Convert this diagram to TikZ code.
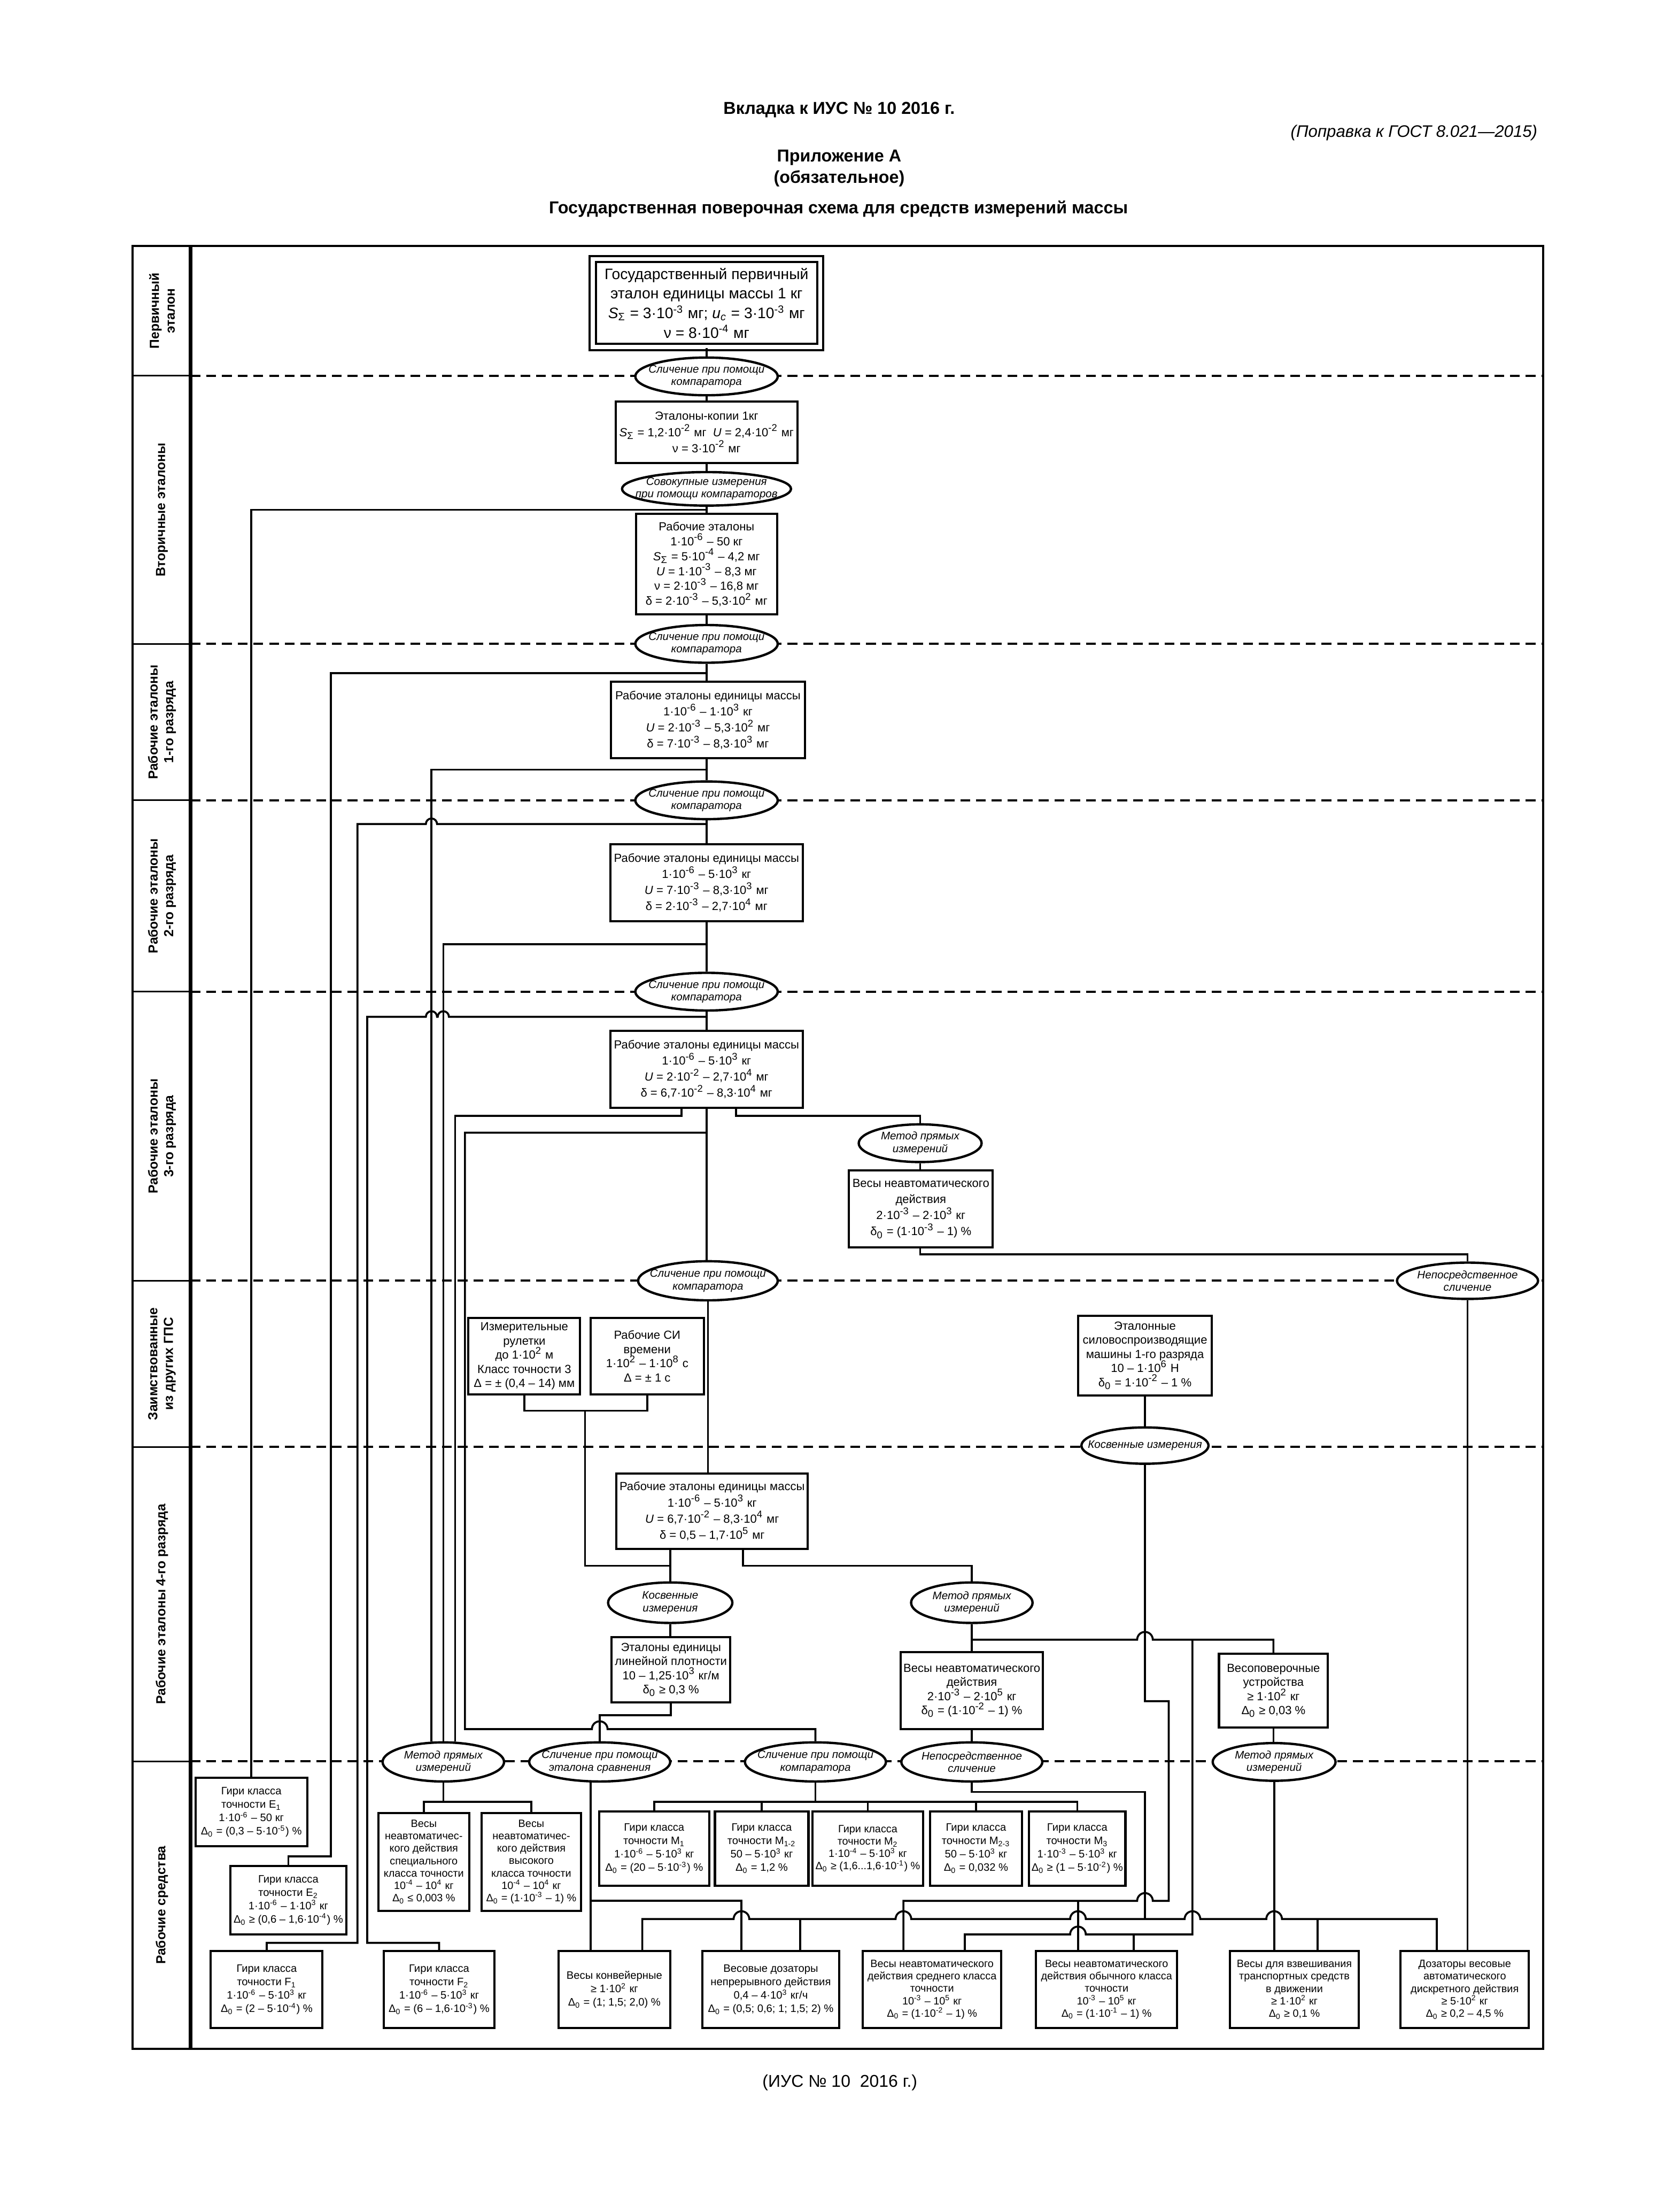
\documentclass[tikz,border=0pt]{standalone}
\usepackage{fontspec}
\setmainfont{Liberation Sans}
\usetikzlibrary{shapes.geometric}
\newcommand{\tp}[1]{10\textsuperscript{#1}}
\lineskiplimit=-6pt
\tikzset{
  ln/.style={line width=1pt},
  rowsep/.style={line width=1.1pt, dash pattern=on 5pt off 3pt},
  sz/.style 2 args={minimum width=#1*0.025cm, minimum height=#2*0.025cm},
  bx/.style={draw, line width=1.1pt, fill=white, align=center, inner sep=1pt},
  lvlbox/.style={bx, font=\fontsize{6}{8.2}\selectfont},
  midbox/.style={bx, font=\fontsize{6}{7.2}\selectfont},
  smbox/.style={bx, font=\fontsize{5.5}{6.8}\selectfont},
  scbox/.style={bx, font=\fontsize{5.4}{6.3}\selectfont},
  oval/.style={ellipse, draw, line width=1.2pt, fill=white, align=center, inner xsep=-14pt, inner ysep=-8pt, font=\fontsize{5.6}{6.3}\selectfont\itshape},
  rowlbl/.style={rotate=90, align=center, font=\fontsize{6.7}{8}\selectfont\bfseries},
  hdr/.style={font=\fontsize{8.8}{10}\selectfont\bfseries},
}
\begin{document}
\begin{tikzpicture}[x=0.025cm, y=-0.025cm]
  \fill[white] (0,0) rectangle (1203,1568);

  % Header
  \node[hdr] (ins) at (601,78.5) {Вкладка к ИУС № 10 2016 г.};
  \node[font=\fontsize{8.5}{10}\selectfont\itshape, anchor=east] (amend) at (1106,95) {(Поправка к ГОСТ 8.021—2015)};
  \node[hdr] (app) at (601,113) {Приложение А};
  \node[hdr] (oblig) at (601,128) {(обязательное)};
  \node[hdr] (title) at (600.5,149.5) {Государственная поверочная схема для средств измерений массы};
  \node[font=\fontsize{8.7}{10}\selectfont] (foot) at (601.5,1491) {(ИУС № 10~~2016 г.)};

  % Frame and rows
  \draw[line width=1.1pt] (95,176) rectangle (1105,1467);
  \draw[line width=1.8pt] (136.5,176) -- (136.5,1467);
  \foreach \y in {269,461,573,710,917,1036,1261} {
    \draw[line width=0.8pt] (95,\y) -- (136.5,\y);
    \draw[rowsep] (136.5,\y) -- (1105,\y);
  }
  \node[rowlbl] (r1) at (116,222.5) {Первичный\\эталон};
  \node[rowlbl] (r2) at (116,365) {Вторичные эталоны};
  \node[rowlbl] (r3) at (116,517) {Рабочие эталоны\\1-го разряда};
  \node[rowlbl] (r4) at (116,641.5) {Рабочие эталоны\\2-го разряда};
  \node[rowlbl] (r5) at (116,813.5) {Рабочие эталоны\\3-го разряда};
  \node[rowlbl] (r6) at (116,976.5) {Заимствованные\\из других ГПС};
  \node[rowlbl] (r7) at (116,1148.5) {Рабочие эталоны 4-го разряда};
  \node[rowlbl] (r8) at (116,1364) {Рабочие средства};

  % Primary and secondary standards
  \node[bx, double, double distance=2pt, sz={163}{63}, font=\fontsize{7.7}{10}\selectfont] (prim) at (506,217)
    {Государственный первичный\\эталон единицы массы 1 кг\\\textit{S}\textsubscript{Σ} = 3·\tp{-3} мг; \textit{u}\textsubscript{\textit{c}} = 3·\tp{-3} мг\\ν = 8·\tp{-4} мг};
  \node[oval, sz={102}{27}] (cmp1) at (506,269.5) {Сличение при помощи\\компаратора};
  \node[lvlbox, sz={130}{44}] (copies) at (506,309.5)
    {Эталоны-копии 1кг\\\textit{S}\textsubscript{Σ} = 1,2·\tp{-2} мг\ \ \textit{U} = 2,4·\tp{-2} мг\\ν = 3·\tp{-2} мг};
  \node[oval, sz={121}{24}] (sovok) at (506,350) {Совокупные измерения\\при помощи компараторов};
  \node[bx, sz={101}{72}, font=\fontsize{6}{7.6}\selectfont] (work) at (506,404)
    {Рабочие эталоны\\1·\tp{-6} – 50 кг\\\textit{S}\textsubscript{Σ} = 5·\tp{-4} – 4,2 мг\\\textit{U} = 1·\tp{-3} – 8,3 мг\\ν = 2·\tp{-3} – 16,8 мг\\δ = 2·\tp{-3} – 5,3·\tp{2} мг};

  % Working standards 1st-3rd grade
  \node[oval, sz={102}{27}] (cmp2) at (506,461) {Сличение при помощи\\компаратора};
  \node[lvlbox, sz={139}{55}] (raz1) at (507,515.5)
    {Рабочие эталоны единицы массы\\1·\tp{-6} – 1·\tp{3} кг\\\textit{U} = 2·\tp{-3} – 5,3·\tp{2} мг\\δ = 7·\tp{-3} – 8,3·\tp{3} мг};
  \node[oval, sz={102}{27}] (cmp3) at (506,573) {Сличение при помощи\\компаратора};
  \node[lvlbox, sz={138}{55}] (raz2) at (506,632)
    {Рабочие эталоны единицы массы\\1·\tp{-6} – 5·\tp{3} кг\\\textit{U} = 7·\tp{-3} – 8,3·\tp{3} мг\\δ = 2·\tp{-3} – 2,7·\tp{4} мг};
  \node[oval, sz={102}{27}] (cmp4) at (506,710) {Сличение при помощи\\компаратора};
  \node[lvlbox, sz={138}{55}] (raz3) at (506,765.5)
    {Рабочие эталоны единицы массы\\1·\tp{-6} – 5·\tp{3} кг\\\textit{U} = 2·\tp{-2} – 2,7·\tp{4} мг\\δ = 6,7·\tp{-2} – 8,3·\tp{4} мг};
  \node[oval, sz={88}{27}] (mdir3) at (659,818.5) {Метод прямых\\измерений};
  \node[lvlbox, sz={103}{55}] (scales3) at (659.5,865.5)
    {Весы неавтоматического\\действия\\2·\tp{-3} – 2·\tp{3} кг\\δ\textsubscript{0} = (1·\tp{-3} – 1) \%};

  % Borrowed
  \node[oval, sz={100}{28}] (cmp5) at (507,917) {Сличение при помощи\\компаратора};
  \node[oval, sz={101}{26}] (direct5) at (1051,917) {Непосредственное\\сличение};
  \node[midbox, sz={80}{55}] (rulet) at (375.5,971)
    {Измерительные\\рулетки\\до 1·\tp{2} м\\Класс точности 3\\Δ = ± (0,4 – 14) мм};
  \node[midbox, sz={81}{55}] (timesi) at (463.5,971)
    {Рабочие СИ\\времени\\1·\tp{2} – 1·\tp{8} с\\Δ = ± 1 с};
  \node[midbox, sz={96}{57}] (force) at (820,970.5)
    {Эталонные\\силовоспроизводящие\\машины 1-го разряда\\10 – 1·\tp{6} Н\\δ\textsubscript{0} = 1·\tp{-2} – 1 \%};
  \node[oval, sz={91}{26}] (kosv6) at (820,1035) {Косвенные измерения};

  % Working standards 4th grade
  \node[lvlbox, sz={137}{54}] (raz4) at (510,1082)
    {Рабочие эталоны единицы массы\\1·\tp{-6} – 5·\tp{3} кг\\\textit{U} = 6,7·\tp{-2} – 8,3·\tp{4} мг\\δ = 0,5 – 1,7·\tp{5} мг};
  \node[oval, sz={89}{29}] (kosv4) at (480,1147.5) {Косвенные\\измерения};
  \node[oval, sz={87}{29}] (mdir4) at (696,1147.5) {Метод прямых\\измерений};
  \node[midbox, sz={85}{47}] (lindens) at (480.5,1195.5)
    {Эталоны единицы\\линейной плотности\\10 – 1,25·\tp{3} кг/м\\δ\textsubscript{0} ≥ 0,3 \%};
  \node[midbox, sz={102}{55}] (scales4) at (696,1210.5)
    {Весы неавтоматического\\действия\\2·\tp{-3} – 2·\tp{5} кг\\δ\textsubscript{0} = (1·\tp{-2} – 1) \%};
  \node[midbox, sz={78}{53}] (verif) at (912,1210.5)
    {Весоповерочные\\устройства\\≥ 1·\tp{2} кг\\Δ\textsubscript{0} ≥ 0,03 \%};

  % Working means
  \node[oval, sz={87}{28}] (mdirA) at (317.5,1261.5) {Метод прямых\\измерений};
  \node[oval, sz={101}{28}] (cmpref) at (429.5,1261.5) {Сличение при помощи\\эталона сравнения};
  \node[oval, sz={101}{28}] (cmpB) at (584,1261.5) {Сличение при помощи\\компаратора};
  \node[oval, sz={101}{28}] (neposB) at (696,1261.5) {Непосредственное\\сличение};
  \node[oval, sz={88}{27}] (mdirB) at (912.5,1261.5) {Метод прямых\\измерений};
  \node[smbox, sz={80}{49}] (e1) at (180,1297.5) {Гири класса\\точности E\textsubscript{1}\\1·\tp{-6} – 50 кг\\Δ\textsubscript{0} = (0,3 – 5·\tp{-5}) \%};
  \node[smbox, sz={83}{49}] (e2) at (206.5,1360.5) {Гири класса\\точности E\textsubscript{2}\\1·\tp{-6} – 1·\tp{3} кг\\Δ\textsubscript{0} ≥ (0,6 – 1,6·\tp{-4}) \%};
  \node[smbox, sz={80}{55}] (f1) at (191,1424.5) {Гири класса\\точности F\textsubscript{1}\\1·\tp{-6} – 5·\tp{3} кг\\Δ\textsubscript{0} = (2 – 5·\tp{-4}) \%};
  \node[smbox, sz={79}{55}] (f2) at (314.5,1424.5) {Гири класса\\точности F\textsubscript{2}\\1·\tp{-6} – 5·\tp{3} кг\\Δ\textsubscript{0} = (6 – 1,6·\tp{-3}) \%};
  \node[scbox, sz={65}{70}] (wspec) at (303.5,1333) {Весы\\неавтоматичес-\\кого действия\\специального\\класса точности\\\tp{-4} – \tp{4} кг\\Δ\textsubscript{0} ≤ 0,003 \%};
  \node[scbox, sz={71}{70}] (whigh) at (380.5,1333) {Весы\\неавтоматичес-\\кого действия\\высокого\\класса точности\\\tp{-4} – \tp{4} кг\\Δ\textsubscript{0} = (1·\tp{-3} – 1) \%};
  \node[smbox, sz={79}{53}] (m1) at (468.5,1323.5) {Гири класса\\точности M\textsubscript{1}\\1·\tp{-6} – 5·\tp{3} кг\\Δ\textsubscript{0} = (20 – 5·\tp{-3}) \%};
  \node[smbox, sz={67}{53}] (m12) at (545.5,1323.5) {Гири класса\\точности M\textsubscript{1-2}\\50 – 5·\tp{3} кг\\Δ\textsubscript{0} = 1,2 \%};
  \node[scbox, sz={79}{53}] (m2) at (621.5,1323.5) {Гири класса\\точности M\textsubscript{2}\\1·\tp{-4} – 5·\tp{3} кг\\Δ\textsubscript{0} ≥ (1,6...1,6·\tp{-1}) \%};
  \node[smbox, sz={66}{53}] (m23) at (699,1323.5) {Гири класса\\точности M\textsubscript{2-3}\\50 – 5·\tp{3} кг\\Δ\textsubscript{0} = 0,032 \%};
  \node[smbox, sz={69}{53}] (m3) at (771.5,1323.5) {Гири класса\\точности M\textsubscript{3}\\1·\tp{-3} – 5·\tp{3} кг\\Δ\textsubscript{0} ≥ (1 – 5·\tp{-2}) \%};
  \node[smbox, sz={80}{55}] (conv) at (440,1424.5) {Весы конвейерные\\≥ 1·\tp{2} кг\\Δ\textsubscript{0} = (1; 1,5; 2,0) \%};
  \node[smbox, sz={98}{55}] (dozcont) at (552,1424.5) {Весовые дозаторы\\непрерывного действия\\0,4 – 4·\tp{3} кг/ч\\Δ\textsubscript{0} = (0,5; 0,6; 1; 1,5; 2) \%};
  \node[scbox, sz={99}{55}] (wmid) at (667.5,1424.5) {Весы неавтоматического\\действия среднего класса\\точности\\\tp{-3} – \tp{5} кг\\Δ\textsubscript{0} = (1·\tp{-2} – 1) \%};
  \node[scbox, sz={101}{55}] (wordin) at (792.5,1424.5) {Весы неавтоматического\\действия обычного класса\\точности\\\tp{-3} – \tp{5} кг\\Δ\textsubscript{0} = (1·\tp{-1} – 1) \%};
  \node[scbox, sz={92}{55}] (wtrans) at (927,1424.5) {Весы для взвешивания\\транспортных средств\\в движении\\≥ 1·\tp{2} кг\\Δ\textsubscript{0} ≥ 0,1 \%};
  \node[scbox, sz={92}{55}] (dozdisc) at (1049,1424.5) {Дозаторы весовые\\автоматического\\дискретного действия\\≥ 5·\tp{2} кг\\Δ\textsubscript{0} ≥ 0,2 – 4,5 \%};

  % Main axis
  \draw[ln] (prim.south) -- (cmp1.north);
  \draw[ln] (cmp1.south) -- (copies.north);
  \draw[ln] (copies.south) -- (sovok.north);
  \draw[ln] (sovok.south) -- (work.north);
  \draw[ln] (work.south) -- (cmp2.north);
  \draw[ln] (cmp2.south) -- (cmp2.south |- raz1.north);
  \draw[ln] (raz1.south -| cmp3.north) -- (cmp3.north);
  \draw[ln] (cmp3.south) -- (raz2.north);
  \draw[ln] (raz2.south) -- (cmp4.north);
  \draw[ln] (cmp4.south) -- (raz3.north);
  \draw[ln] (raz3.south) -- (raz3.south |- cmp5.north);
  \draw[ln] (cmp5.south) -- (cmp5.south |- raz4.north);

  % Branches to weights E1, E2, F1, F2
  \draw[ln] (sovok.south |- 0,365) -| (e1.north);
  \draw[ln] (cmp2.south |- 0,482) -- (237,482) -- (237,1329) -| (e2.north);
  \draw[ln] (cmp3.south |- 0,590) -- (313,590) arc(0:180:0.1cm) -- (256,590) -- (256,1391) -| (f1.north);
  \draw[ln] (cmp4.south |- 0,728) -- (321.5,728) arc(0:180:0.1cm) -- (313,728) arc(0:180:0.1cm) -- (263,728) -- (263,1391) -| (f2.north);

  % Branches to direct measurement
  \draw[ln] (raz1.south |- 0,551) -| (mdirA.north -| 309,0);
  \draw[ln] (raz2.south |- 0,676) -| (mdirA.north);
  \draw[ln] (raz3.south -| 488,0) -- (488,799) -| (mdirA.north -| 326,0);
  \draw[ln] (raz3.south -| 527,0) -- (527,799) -| (mdir3.north);
  \draw[ln] (raz3.south |- 0,811) -- (333,811) -- (333,1238) -- (423.9,1238) arc(180:0:0.14cm) -- (584,1238) -- (cmpB.north);
  \draw[ln] (mdir3.south) -- (scales3.north -| mdir3.south);
  \draw[ln] (scales3.south -| mdir3.south) -- (659,898) -| (direct5.north);
  \draw[ln] (direct5.south) -- (direct5.south |- dozdisc.north);

  % Borrowed and 4th grade
  \draw[ln] (rulet.south) -- (rulet.south |- 0,1010) -- (timesi.south |- 0,1010) -- (timesi.south);
  \draw[ln] (419,1010) -- (419,1121) -- (480,1121);
  \draw[ln] (raz4.south -| kosv4.north) -- (kosv4.north);
  \draw[ln] (raz4.south -| 532,0) -- (532,1121) -| (mdir4.north);
  \draw[ln] (force.south) -- (kosv6.north);
  \draw[ln] (kosv6.south) -- (820,1218) -- (837,1218) -- (837,1361) -- (825.6,1361) arc(0:180:0.14cm) -- (647,1361) -- (wmid.north -| 647,0);
  \draw[ln] (772,1361) -- (wordin.north -| 772,0);
  \draw[ln] (kosv4.south) -- (lindens.north -| kosv4.south);
  \draw[ln] (lindens.south) -- (lindens.south |- 0,1228) -| (cmpref.north);
  \draw[ln] (mdir4.south) -- (scales4.north);
  \draw[ln] (mdir4.south |- 0,1174) -- (814.4,1174) arc(180:0:0.14cm) -- (912,1174) -- (verif.north);
  \draw[ln] (854,1174) -- (854,1385) -- (777.6,1385) arc(0:180:0.14cm) -- (691,1385) -- (wmid.north -| 691,0);
  \draw[ln] (812,1385) -- (wordin.north -| 812,0);
  \draw[ln] (scales4.south) -- (neposB.north);
  \draw[ln] (verif.south) -- (mdirB.north -| verif.south);

  % Working means
  \draw[ln] (mdirA.south) -- (mdirA.south |- 0,1290);
  \draw[ln] (wspec.north) -- (wspec.north |- 0,1290) -- (whigh.north |- 0,1290) -- (whigh.north);
  \draw[ln] (cmpB.south) -- (cmpB.south |- 0,1290);
  \draw[ln] (m1.north) -- (m1.north |- 0,1290) -- (m3.north |- 0,1290) -- (m3.north);
  \foreach \n in {m12,m2,m23} \draw[ln] (\n.north) -- (\n.north |- 0,1290);
  \draw[ln] (cmpref.south -| 423,0) -- (conv.north -| 423,0);
  \draw[ln] (423,1361) -| (dozcont.north -| 531,0);
  \draw[ln] (neposB.south) -- (696,1283) -- (820,1283) -- (820,1374);
  \draw[ln] (conv.north -| 460,0) -- (460,1374) -- (525.4,1374) arc(180:0:0.14cm) -- (641.4,1374) arc(180:0:0.14cm)
    -- (766.4,1374) arc(180:0:0.14cm) -- (848.4,1374) arc(180:0:0.14cm) -- (906.9,1374) arc(180:0:0.14cm)
    -- (1029,1374) -- (dozdisc.north -| 1029,0);
  \draw[ln] (573,1374) -- (dozcont.north -| 573,0);
  \draw[ln] (943.5,1374) -- (wtrans.north -| 943.5,0);
  \draw[ln] (mdirB.south) -- (wtrans.north -| mdirB.south);
\end{tikzpicture}
\end{document}
